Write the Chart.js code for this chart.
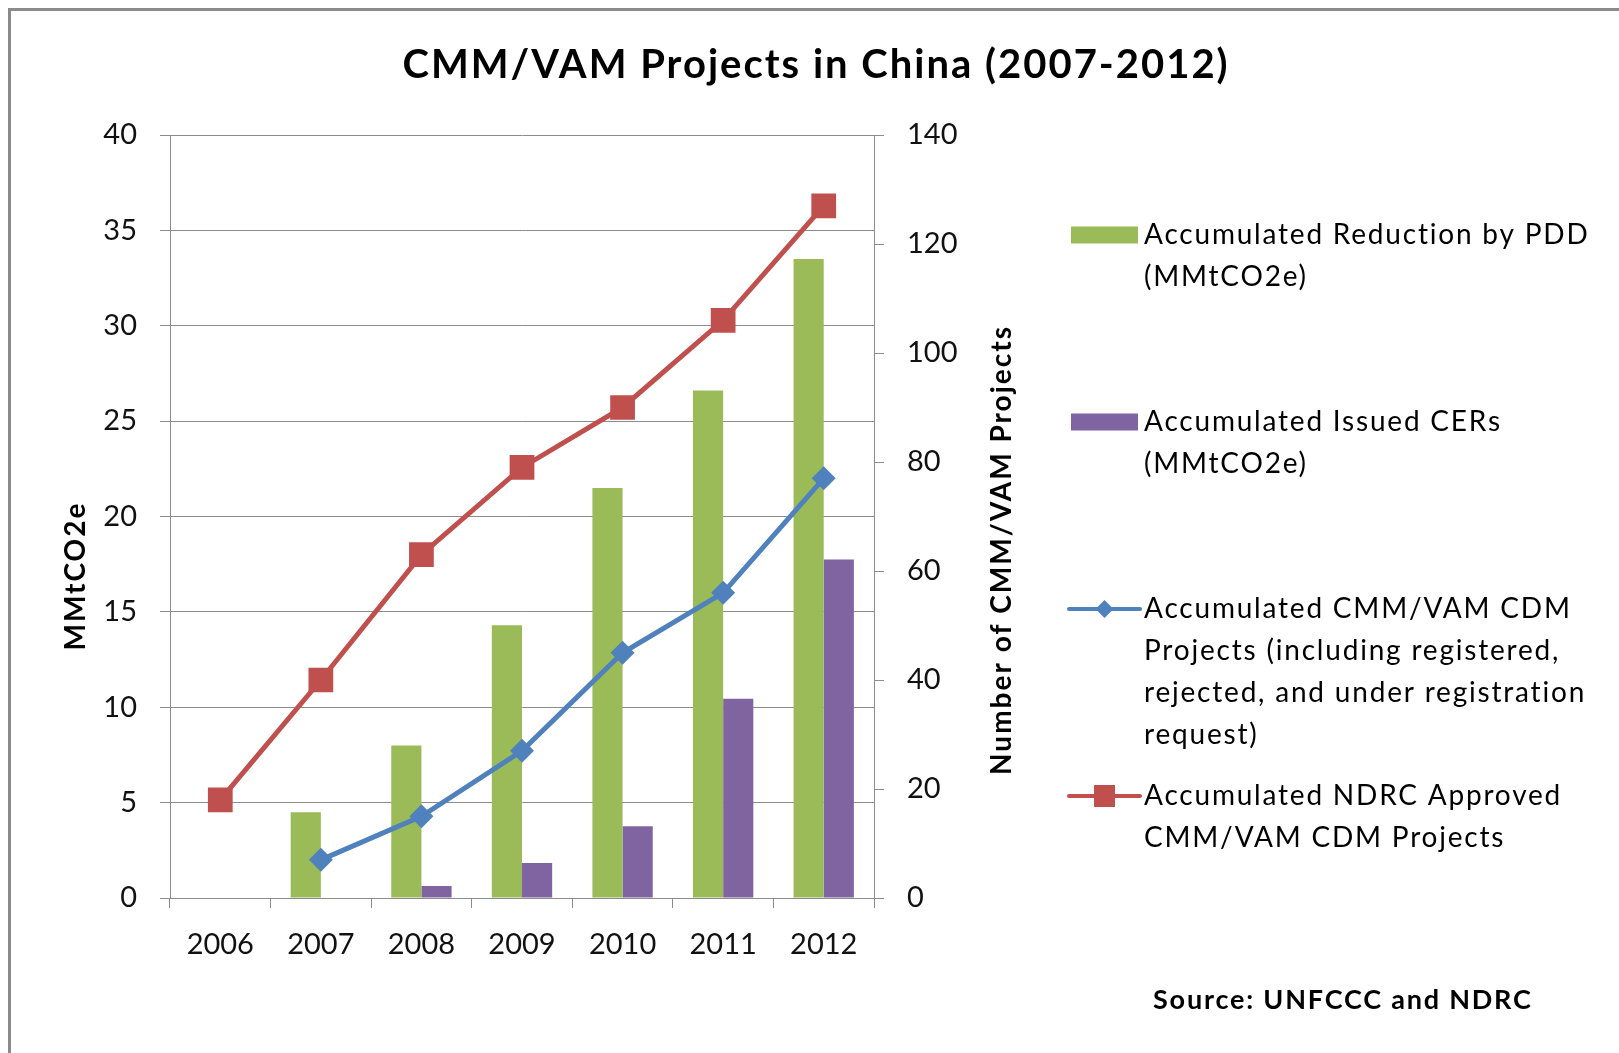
<!DOCTYPE html>
<html>
<head>
<meta charset="utf-8">
<script src="https://cdn.jsdelivr.net/npm/chart.js@4.4.0/dist/chart.umd.min.js"></script>
<style>
  html, body { margin: 0; padding: 0; background: #fff; }
  #wrap { position: relative; width: 1619px; height: 1053px; }
</style>
</head>
<body>
<div id="wrap"><canvas id="cmmChart"></canvas></div>
<script>
// values
const years = ['2006', '2007', '2008', '2009', '2010', '2011', '2012'];
const reductionByPdd = [null, 4.5, 8.0, 14.3, 21.5, 26.6, 33.5];   // MMtCO2e, left axis
const issuedCers = [null, null, 0.63, 1.84, 3.76, 10.45, 17.74];  // MMtCO2e, left axis
const cdmProjects = [null, 7, 15, 27, 45, 56, 77];                // count, right axis
const ndrcApproved = [18, 40, 63, 79, 90, 106, 127];              // count, right axis

const leftAxis = { min: 0, max: 40, step: 5 };
const rightAxis = { min: 0, max: 140, step: 20 };

const chartTitle = 'CMM/VAM Projects in China (2007-2012)';
const leftTitle = 'MMtCO2e';
const rightTitle = 'Number of CMM/VAM Projects';
const sourceNote = 'Source: UNFCCC and NDRC';

const legendText = [
  ['Accumulated Reduction by PDD', '(MMtCO2e)'],
  ['Accumulated Issued CERs', '(MMtCO2e)'],
  ['Accumulated CMM/VAM CDM', 'Projects (including registered,', 'rejected, and under registration', 'request)'],
  ['Accumulated NDRC Approved', 'CMM/VAM CDM Projects']
];

const GREEN = '#9BBB59';
const PURPLE = '#8064A2';
const BLUE = '#4F81BD';
const RED = '#C0504D';
const AXIS = '#8c8c8c';
const FONT = 'Lato';

// everything around the plot: frame, title, axis titles, legend, source
const decorations = {
  id: 'decorations',
  afterDraw(chart) {
    const ctx = chart.ctx;
    ctx.save();

    // outer frame (top and left edges are visible)
    ctx.strokeStyle = '#8a8a8a';
    ctx.lineWidth = 3;
    ctx.beginPath();
    ctx.moveTo(1619, 9.5);
    ctx.lineTo(9.5, 9.5);
    ctx.lineTo(9.5, 1053);
    ctx.stroke();

    ctx.fillStyle = '#000';
    ctx.textBaseline = 'middle';

    ctx.font = 'bold 40px ' + FONT;
    ctx.letterSpacing = '2px';
    ctx.textAlign = 'center';
    ctx.fillText(chartTitle, 816, 65);

    ctx.font = 'bold 28px ' + FONT;
    ctx.letterSpacing = '2px';
    ctx.save();
    ctx.translate(76, 576);
    ctx.rotate(-Math.PI / 2);
    ctx.fillText(leftTitle, 0, 0);
    ctx.restore();
    ctx.save();
    ctx.translate(1002, 550);
    ctx.rotate(-Math.PI / 2);
    ctx.fillText(rightTitle, 0, 0);
    ctx.restore();

    ctx.font = 'bold 27px ' + FONT;
    ctx.letterSpacing = '1.8px';
    ctx.textAlign = 'left';
    ctx.fillText(sourceNote, 1153, 1000);

    // legend
    const markX = 1071, markW = 67, textX = 1144, lineGap = 42;
    const rows = [235, 422, 609, 796];
    ctx.font = '28px ' + FONT;
    ctx.letterSpacing = '1.8px';
    legendText.forEach((lines, i) => {
      const y = rows[i];
      if (i < 2) {
        ctx.fillStyle = i === 0 ? GREEN : PURPLE;
        ctx.fillRect(markX, y - 8.5, markW, 17);
      } else {
        const c = i === 2 ? BLUE : RED;
        ctx.strokeStyle = c;
        ctx.lineWidth = 4;
        ctx.lineCap = 'round';
        ctx.beginPath();
        ctx.moveTo(markX - 2, y);
        ctx.lineTo(markX + markW + 2, y);
        ctx.stroke();
        ctx.fillStyle = c;
        const cx = markX + markW / 2;
        if (i === 2) {
          ctx.beginPath();
          ctx.moveTo(cx - 9, y);
          ctx.lineTo(cx, y - 9);
          ctx.lineTo(cx + 9, y);
          ctx.lineTo(cx, y + 9);
          ctx.closePath();
          ctx.fill();
        } else {
          ctx.fillRect(cx - 10.5, y - 11, 21, 22);
        }
      }
      ctx.fillStyle = '#000';
      lines.forEach((t, k) => ctx.fillText(t, textX, y + k * lineGap));
    });

    ctx.restore();
  }
};

const tickFont = { family: FONT, size: 29 };

new Chart(document.getElementById('cmmChart'), {
  type: 'bar',
  data: {
    labels: years,
    datasets: [
      {
        type: 'line',
        label: 'Accumulated CMM/VAM CDM Projects',
        data: cdmProjects,
        yAxisID: 'y1',
        borderColor: BLUE,
        backgroundColor: BLUE,
        borderWidth: 5,
        tension: 0,
        pointStyle: 'rectRot',
        pointRadius: 12,
        pointBorderWidth: 0,
        order: 0
      },
      {
        type: 'line',
        label: 'Accumulated NDRC Approved CMM/VAM CDM Projects',
        data: ndrcApproved,
        yAxisID: 'y1',
        borderColor: RED,
        backgroundColor: RED,
        borderWidth: 5,
        tension: 0,
        pointStyle: 'rect',
        pointRadius: 17.5,
        pointBorderWidth: 0,
        order: 0
      },
      {
        label: 'Accumulated Reduction by PDD (MMtCO2e)',
        data: reductionByPdd,
        yAxisID: 'y',
        backgroundColor: GREEN,
        categoryPercentage: 0.6,
        barPercentage: 1.0,
        order: 1
      },
      {
        label: 'Accumulated Issued CERs (MMtCO2e)',
        data: issuedCers,
        yAxisID: 'y',
        backgroundColor: PURPLE,
        categoryPercentage: 0.6,
        barPercentage: 1.0,
        order: 1
      }
    ]
  },
  options: {
    responsive: true,
    maintainAspectRatio: false,
    animation: false,
    layout: { padding: { top: 135, left: 0, right: 0, bottom: 0 } },
    plugins: {
      legend: { display: false },
      title: { display: false },
      tooltip: { enabled: false }
    },
    scales: {
      x: {
        offset: true,
        grid: { drawOnChartArea: false, drawTicks: true, tickLength: 10, color: AXIS, offset: true },
        border: { color: AXIS },
        ticks: { font: tickFont, color: '#111', padding: 19, maxRotation: 0 },
        afterFit: s => { s.height = 155; }
      },
      y: {
        position: 'left',
        min: leftAxis.min,
        max: leftAxis.max,
        grid: { color: AXIS, tickLength: 10 },
        border: { color: AXIS },
        ticks: { stepSize: leftAxis.step, font: tickFont, color: '#111', padding: 23 },
        afterFit: s => { s.width = 170; }
      },
      y1: {
        position: 'right',
        min: rightAxis.min,
        max: rightAxis.max,
        grid: { drawOnChartArea: false, color: AXIS, tickLength: 10 },
        border: { color: AXIS },
        ticks: { stepSize: rightAxis.step, font: tickFont, color: '#111', padding: 23 },
        afterFit: s => { s.width = 745; }
      }
    }
  },
  plugins: [decorations]
});
</script>
</body>
</html>
